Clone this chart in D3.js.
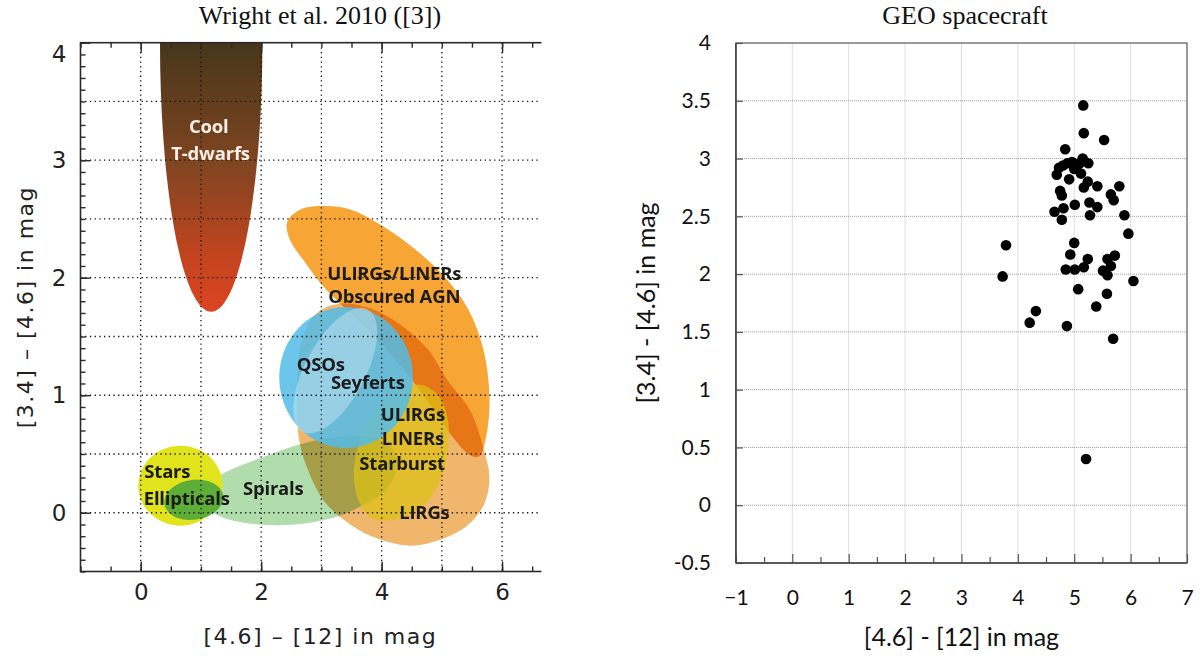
<!DOCTYPE html>
<html>
<head>
<meta charset="utf-8">
<script src="https://cdn.jsdelivr.net/npm/d3@7"></script>
<style>
  body { margin: 0; background: #fff; }
  svg { display: block; }
  .title { font-family: "Liberation Serif", "Times New Roman", serif; font-size: 26px; fill: #111; }
  .left-axis text { font-family: "DejaVu Sans", sans-serif; font-size: 23px; fill: #222; }
  .left-axis path.domain { display: none; }
  .left-axis line { stroke: #2a2a2a; stroke-width: 1.4; }
  .left-label { font-family: "DejaVu Sans", sans-serif; font-size: 22px; fill: #222; letter-spacing: 1.5px; }
  .region-label { font-family: "Open Sans", sans-serif; font-weight: 700; font-size: 18.5px; fill: #1b1b1b; letter-spacing: -0.2px; }
  .right-axis text { font-family: Lato, "Open Sans", sans-serif; font-size: 21px; fill: #111; }
  .right-axis path.domain { display: none; }
  .right-axis line { stroke: #555; stroke-width: 1.2; }
  .right-label { font-family: Lato, "Open Sans", sans-serif; font-size: 25px; fill: #111; }
</style>
</head>
<body>
<svg id="chart" width="1200" height="657"></svg>
<script>
// ---- left panel: Wright et al. 2010 colour regions, [4.6]-[12] vs [3.4]-[4.6] in mag
const spiralsOutline = [[1.07, 0.13], [1.28, 0.30], [1.65, 0.40], [2.07, 0.48], [2.56, 0.57], [3.06, 0.63],
  [3.56, 0.65], [3.98, 0.62], [4.22, 0.52], [4.24, 0.36], [4.06, 0.19], [3.64, 0.05], [3.15, -0.05],
  [2.56, -0.10], [1.98, -0.10], [1.48, -0.06], [1.18, 0.01]];
const lirgsOutline = [[2.70, 1.51], [2.95, 1.71], [3.34, 1.78], [3.81, 1.74], [4.31, 1.60], [4.77, 1.39],
  [5.09, 1.13], [5.47, 0.87], [5.70, 0.53], [5.79, 0.30], [5.70, 0.07], [5.42, -0.11], [4.97, -0.23],
  [4.47, -0.28], [3.93, -0.22], [3.48, -0.10], [3.06, 0.09], [2.78, 0.36], [2.63, 0.62], [2.60, 0.96], [2.61, 1.26]];
const agnOutline = [[2.43, 2.47], [2.65, 2.58], [3.06, 2.61], [3.48, 2.58], [3.98, 2.45], [4.56, 2.24],
  [5.06, 2.00], [5.44, 1.73], [5.69, 1.39], [5.79, 1.00], [5.75, 0.69], [5.62, 0.48], [5.47, 0.49],
  [5.22, 0.62], [4.89, 0.86], [4.47, 1.15], [4.06, 1.40], [3.56, 1.66], [3.06, 1.91], [2.70, 2.15], [2.48, 2.32]];
const starburstOutline = [[4.64, 1.09], [4.94, 1.00], [5.10, 0.79], [5.09, 0.49], [4.94, 0.24], [4.64, 0.04],
  [4.22, -0.06], [3.84, -0.05], [3.61, 0.11], [3.54, 0.36], [3.64, 0.62], [3.89, 0.87], [4.27, 1.04]];
// ellipses: centre plus two conjugate semi-diameters, all in mag
const qsoEllipse = { cx: 3.41, cy: 1.15, ax: 1.11, ay: 0, bx: 0, by: 0.60 };
const seyfertEllipse = { cx: 3.23, cy: 1.21, ax: 0.54, ay: 0.52, bx: 0.44, by: -0.12 };
const starsEllipse = { cx: 0.66, cy: 0.23, ax: 0.70, ay: 0, bx: 0, by: 0.34 };
const ellipticalsEllipse = { cx: 0.88, cy: 0.11, ax: 0.49, ay: 0.02, bx: 0, by: 0.17 };
const tDwarfEllipse = { cx: 1.17, cy: 4.0, ax: 0.85, ay: 0, bx: 0, by: 2.29 };

const regionLabels = [
  { text: 'Cool', x: 1.13, y: 3.29, anchor: 'middle', light: true },
  { text: 'T-dwarfs', x: 1.16, y: 3.06, anchor: 'middle', light: true },
  { text: 'ULIRGs/LINERs', x: 4.21, y: 2.04, anchor: 'middle' },
  { text: 'Obscured AGN', x: 4.21, y: 1.84, anchor: 'middle' },
  { text: 'QSOs', x: 2.99, y: 1.26, anchor: 'middle' },
  { text: 'Seyferts', x: 3.77, y: 1.11, anchor: 'middle' },
  { text: 'ULIRGs', x: 4.52, y: 0.84, anchor: 'middle' },
  { text: 'LINERs', x: 4.52, y: 0.63, anchor: 'middle' },
  { text: 'Starburst', x: 4.34, y: 0.42, anchor: 'middle' },
  { text: 'LIRGs', x: 4.71, y: 0.0, anchor: 'middle' },
  { text: 'Spirals', x: 2.20, y: 0.21, anchor: 'middle' },
  { text: 'Stars', x: 0.06, y: 0.35, anchor: 'start' },
  { text: 'Ellipticals', x: 0.05, y: 0.12, anchor: 'start' }
];

const leftXTicks = [0, 2, 4, 6];
const leftYTicks = [0, 1, 2, 3, 4];
const leftXGrid = [0, 1, 2, 3, 4, 5, 6];
const leftYGrid = [0, 0.5, 1, 1.5, 2, 2.5, 3, 3.5];

// ---- right panel: GEO spacecraft
const geoX = [5.16, 5.17, 5.53, 4.84, 5.15, 4.73, 4.69, 4.80, 4.88, 4.96, 5.04, 5.10, 5.25, 5.12, 4.91, 5.00,
  5.24, 5.17, 5.41, 5.80, 5.65, 5.70, 4.75, 4.78, 4.65, 4.81, 4.78, 5.01, 5.27, 5.41, 5.28, 5.89, 5.96,
  5.00, 4.93, 5.24, 4.85, 5.01, 5.17, 5.59, 5.72, 5.65, 5.51, 5.59, 6.05, 5.07, 5.58,
  3.73, 3.79, 4.32, 4.21, 4.87, 5.39, 5.69, 5.21];
const geoY = [3.46, 3.22, 3.16, 3.08, 3.00, 2.92, 2.86, 2.94, 2.96, 2.97, 2.94, 2.96, 2.96, 2.87, 2.82, 2.91,
  2.80, 2.75, 2.76, 2.76, 2.69, 2.64, 2.72, 2.68, 2.54, 2.57, 2.47, 2.60, 2.62, 2.58, 2.51, 2.51, 2.35,
  2.27, 2.17, 2.13, 2.04, 2.04, 2.06, 2.13, 2.16, 2.07, 2.03, 1.99, 1.94, 1.87, 1.83,
  1.98, 2.25, 1.68, 1.58, 1.55, 1.72, 1.44, 0.40];
const rightXTicks = [-1, 0, 1, 2, 3, 4, 5, 6, 7];
const rightYTicks = [-0.5, 0, 0.5, 1, 1.5, 2, 2.5, 3, 3.5, 4];

const svg = d3.select('#chart');
const defs = svg.append('defs');

// ================= left panel =================
const xL = d3.scaleLinear().domain([-1, 7]).range([80.5, 562.3]);
const yL = d3.scaleLinear().domain([-0.5, 4]).range([571.5, 42.7]);
const leftCut = 540.5;

defs.append('clipPath').attr('id', 'left-plot-clip')
  .append('rect')
  .attr('x', xL(-1)).attr('y', yL(4))
  .attr('width', leftCut - xL(-1)).attr('height', yL(-0.5) - yL(4));
defs.append('clipPath').attr('id', 'left-panel-clip')
  .append('rect').attr('x', 0).attr('y', 0).attr('width', leftCut + 1).attr('height', 657);

const grad = defs.append('linearGradient')
  .attr('id', 'tdwarf-grad')
  .attr('gradientUnits', 'userSpaceOnUse')
  .attr('x1', 0).attr('x2', 0)
  .attr('y1', yL(4)).attr('y2', yL(1.72));
grad.append('stop').attr('offset', '0%').attr('stop-color', '#47361a');
grad.append('stop').attr('offset', '45%').attr('stop-color', '#7f4521');
grad.append('stop').attr('offset', '80%').attr('stop-color', '#c2441f');
grad.append('stop').attr('offset', '100%').attr('stop-color', '#dc4420');

const ellipsePoints = (e) => d3.range(0, 360, 10).map((deg) => {
  const t = deg * Math.PI / 180;
  return [e.cx + e.ax * Math.cos(t) + e.bx * Math.sin(t), e.cy + e.ay * Math.cos(t) + e.by * Math.sin(t)];
});

const outline = d3.line()
  .x((d) => xL(d[0]))
  .y((d) => yL(d[1]))
  .curve(d3.curveCatmullRomClosed.alpha(0.5));

const regions = [
  { pts: spiralsOutline, fill: '#a3d69c', opacity: 0.85 },
  { pts: lirgsOutline, fill: '#efb66c', opacity: 1, blend: 'multiply' },
  { pts: agnOutline, fill: '#f7a535', opacity: 1, blend: 'multiply' },
  { pts: starburstOutline, fill: '#dcc015', opacity: 0.72 },
  { pts: ellipsePoints(qsoEllipse), fill: '#52bce8', opacity: 0.85 },
  { pts: ellipsePoints(seyfertEllipse), fill: '#c3e6f3', opacity: 0.5 },
  { pts: ellipsePoints(starsEllipse), fill: '#e1e31d', opacity: 1 },
  { pts: ellipsePoints(ellipticalsEllipse), fill: '#52a83a', opacity: 0.92 },
  { pts: ellipsePoints(tDwarfEllipse), fill: 'url(#tdwarf-grad)', opacity: 1 }
];

const leftPlot = svg.append('g').attr('clip-path', 'url(#left-plot-clip)');
leftPlot.selectAll('path.region')
  .data(regions)
  .join('path')
  .attr('class', 'region')
  .attr('d', (d) => outline(d.pts))
  .attr('fill', (d) => d.fill)
  .attr('fill-opacity', (d) => d.opacity)
  .style('mix-blend-mode', (d) => d.blend || 'normal');

// dotted grid over the regions
leftPlot.selectAll('line.vgrid')
  .data(leftXGrid)
  .join('line')
  .attr('x1', (d) => xL(d)).attr('x2', (d) => xL(d))
  .attr('y1', yL(4)).attr('y2', yL(-0.5))
  .attr('stroke', '#111').attr('stroke-width', 1.3).attr('stroke-dasharray', '1.3,3.4');
leftPlot.selectAll('line.hgrid')
  .data(leftYGrid)
  .join('line')
  .attr('x1', xL(-1)).attr('x2', xL(7))
  .attr('y1', (d) => yL(d)).attr('y2', (d) => yL(d))
  .attr('stroke', '#111').attr('stroke-width', 1.3).attr('stroke-dasharray', '1.3,3.4');

leftPlot.selectAll('text.region-label')
  .data(regionLabels)
  .join('text')
  .attr('class', 'region-label')
  .attr('x', (d) => xL(d.x))
  .attr('y', (d) => yL(d.y))
  .attr('dy', '0.36em')
  .attr('text-anchor', (d) => d.anchor)
  .style('fill', (d) => (d.light ? '#fbefe6' : null))
  .text((d) => d.text);

// frame and ticks (IDL style, ticks inside)
const leftFrame = svg.append('g').attr('class', 'left-axis').attr('clip-path', 'url(#left-panel-clip)');
const halfSteps = d3.range(-1, 7.01, 0.5);
const tenthSteps = d3.range(-0.5, 4.001, 0.1).map((v) => +v.toFixed(1));

leftFrame.append('g').attr('transform', `translate(0,${yL(-0.5)})`)
  .call(d3.axisBottom(xL).tickValues(halfSteps).tickSize(-5).tickFormat(''));
leftFrame.append('g').attr('transform', `translate(0,${yL(-0.5)})`)
  .call(d3.axisBottom(xL).tickValues(leftXTicks).tickSize(-10).tickPadding(12).tickFormat(d3.format('d')));
leftFrame.append('g').attr('transform', `translate(0,${yL(4)})`)
  .call(d3.axisTop(xL).tickValues(halfSteps).tickSize(-5).tickFormat(''));
leftFrame.append('g').attr('transform', `translate(0,${yL(4)})`)
  .call(d3.axisTop(xL).tickValues(leftXTicks).tickSize(-10).tickFormat(''));
leftFrame.append('g').attr('transform', `translate(${xL(-1)},0)`)
  .call(d3.axisLeft(yL).tickValues(tenthSteps).tickSize(-5).tickFormat(''));
const leftYAxis = leftFrame.append('g').attr('transform', `translate(${xL(-1)},0)`)
  .call(d3.axisLeft(yL).tickValues(leftYTicks).tickSize(-10).tickPadding(14).tickFormat(d3.format('d')));
leftYAxis.selectAll('.tick').filter((d) => d === 4).select('text').attr('dy', '0.8em');

leftFrame.append('rect')
  .attr('x', xL(-1)).attr('y', yL(4))
  .attr('width', xL(7) - xL(-1)).attr('height', yL(-0.5) - yL(4))
  .attr('fill', 'none').attr('stroke', '#2a2a2a').attr('stroke-width', 1.6);

svg.append('text').attr('class', 'left-label')
  .attr('x', (xL(-1) + xL(7)) / 2 - 1).attr('y', 644)
  .attr('text-anchor', 'middle')
  .text('[4.6] \u2013 [12] in mag');
svg.append('text').attr('class', 'left-label')
  .attr('transform', `translate(33,${(yL(-0.5) + yL(4)) / 2}) rotate(-90)`)
  .attr('text-anchor', 'middle')
  .text('[3.4] \u2013 [4.6] in mag');

svg.append('text').attr('class', 'title')
  .attr('x', 320).attr('y', 24).attr('text-anchor', 'middle')
  .text('Wright et al. 2010 ([3])');

// ================= right panel =================
const xR = d3.scaleLinear().domain([-1, 7]).range([735.9, 1187]);
const yR = d3.scaleLinear().domain([-0.5, 4]).range([563, 43]);

const right = svg.append('g');
right.selectAll('line.vgrid')
  .data(rightXTicks.slice(1, -1))
  .join('line')
  .attr('x1', (d) => xR(d)).attr('x2', (d) => xR(d))
  .attr('y1', yR(4)).attr('y2', yR(-0.5))
  .attr('stroke', '#dedede').attr('stroke-width', 1);
right.selectAll('line.hgrid')
  .data(rightYTicks.slice(1, -1))
  .join('line')
  .attr('x1', xR(-1)).attr('x2', xR(7))
  .attr('y1', (d) => yR(d)).attr('y2', (d) => yR(d))
  .attr('stroke', '#9a9a9a').attr('stroke-width', 1).attr('stroke-dasharray', '1,1');

right.append('rect')
  .attr('x', xR(-1)).attr('y', yR(4))
  .attr('width', xR(7) - xR(-1)).attr('height', yR(-0.5) - yR(4))
  .attr('fill', 'none').attr('stroke', '#595959').attr('stroke-width', 1.2);

const rightAxes = right.append('g').attr('class', 'right-axis');
rightAxes.append('g').attr('transform', `translate(0,${yR(-0.5)})`)
  .call(d3.axisBottom(xR).tickValues(d3.range(-0.5, 7, 1)).tickSize(-6).tickFormat(''));
rightAxes.append('g').attr('transform', `translate(0,${yR(-0.5)})`)
  .call(d3.axisBottom(xR).tickValues(rightXTicks).tickSize(-9).tickPadding(27).tickFormat(d3.format('d')));
rightAxes.append('g').attr('transform', `translate(${xR(-1)},0)`)
  .call(d3.axisLeft(yR).tickValues(rightYTicks).tickSize(-7).tickPadding(25).tickFormat((d) => String(d)));
right.append('line')
  .attr('x1', xR(-1)).attr('x2', xR(7)).attr('y1', yR(-0.5)).attr('y2', yR(-0.5))
  .attr('stroke', '#444').attr('stroke-width', 1.6);
right.append('line')
  .attr('x1', xR(-1)).attr('x2', xR(-1)).attr('y1', yR(4)).attr('y2', yR(-0.5))
  .attr('stroke', '#444').attr('stroke-width', 1.6);

right.selectAll('circle.geo')
  .data(d3.range(geoX.length))
  .join('circle')
  .attr('class', 'geo')
  .attr('cx', (i) => xR(geoX[i]))
  .attr('cy', (i) => yR(geoY[i]))
  .attr('r', 5.3)
  .attr('fill', '#000');

svg.append('text').attr('class', 'right-label')
  .attr('x', (xR(-1) + xR(7)) / 2).attr('y', 646)
  .attr('text-anchor', 'middle')
  .text('[4.6] - [12] in mag');
svg.append('text').attr('class', 'right-label')
  .attr('transform', `translate(655,${(yR(-0.5) + yR(4)) / 2}) rotate(-90)`)
  .attr('text-anchor', 'middle')
  .text('[3.4] - [4.6] in mag');

svg.append('text').attr('class', 'title')
  .attr('x', 965).attr('y', 24).attr('text-anchor', 'middle')
  .text('GEO spacecraft');
</script>
</body>
</html>
